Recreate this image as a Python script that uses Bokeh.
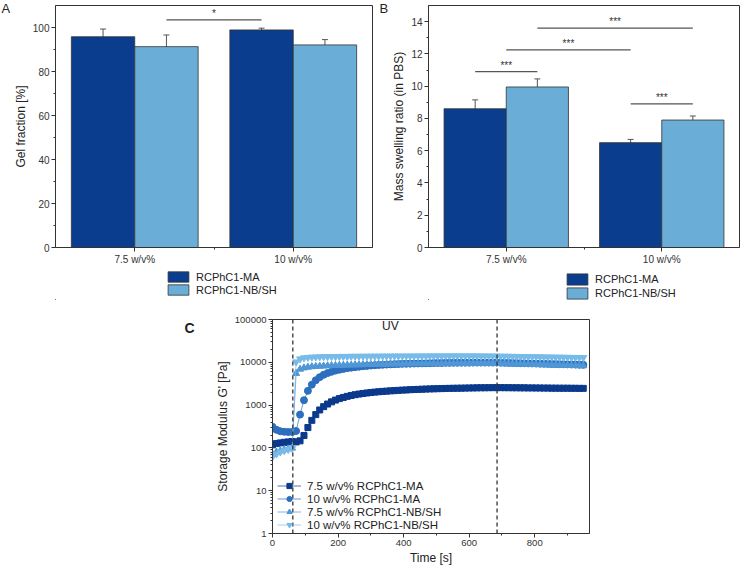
import numpy as np
from bokeh.plotting import figure
from bokeh.layouts import row, column
from bokeh.models import (ColumnDataSource, Whisker, TeeHead, Legend, LegendItem,
                          Label, Span, FixedTicker, Range1d)
from bokeh.embed import file_html
from bokeh.resources import INLINE

FONT = "Liberation Sans"
DARK = "#0b3d8f"
LIGHT = "#6aaed8"
C_COLORS = ["#0b3a8c", "#2c6fbf", "#4f97d6", "#78bbe8"]

# ---------------- data ----------------
groups = ["7.5 w/v%", "10 w/v%"]
series_names = ["RCPhC1-MA", "RCPhC1-NB/SH"]

gel_ma = [95.8, 98.9]
gel_ma_err = [3.5, 0.8]
gel_nb = [91.3, 92.1]
gel_nb_err = [5.3, 2.4]

swell_ma = [8.6, 6.5]
swell_ma_err = [0.55, 0.2]
swell_nb = [9.95, 7.9]
swell_nb_err = [0.5, 0.25]

sigA_x0 = [1.2]
sigA_x1 = [1.8]
sigA_y = [103.5]
sigA_lab = ["*"]

sigB_x0 = [0.8, 1.0, 1.2, 1.8]
sigB_x1 = [1.2, 1.8, 2.2, 2.2]
sigB_y = [10.9, 12.25, 13.6, 8.9]
sigB_lab = ["***", "***", "***", "***"]

time_s = list(range(0, 960, 12))
ma_75 = [118, 126, 131, 135, 138, 141, 138, 146, 195, 300,
         440, 600, 770, 920, 1060, 1190, 1310, 1420, 1510, 1600,
         1680, 1750, 1810, 1870, 1920, 1970, 2010, 2050, 2090, 2120,
         2150, 2180, 2210, 2240, 2260, 2290, 2310, 2330, 2350, 2370,
         2390, 2400, 2420, 2430, 2450, 2460, 2470, 2480, 2490, 2500,
         2510, 2520, 2530, 2540, 2540, 2550, 2560, 2560, 2560, 2550,
         2550, 2540, 2540, 2530, 2530, 2520, 2520, 2510, 2510, 2500,
         2500, 2490, 2490, 2480, 2480, 2480, 2470, 2470, 2460, 2460]
ma_10 = [310, 265, 245, 238, 235, 236, 248, 600, 1300, 2150,
         3000, 3800, 4500, 5100, 5600, 6000, 6400, 6700, 7000, 7300,
         7500, 7700, 7900, 8100, 8250, 8400, 8550, 8650, 8750, 8850,
         8950, 9050, 9100, 9200, 9250, 9300, 9350, 9400, 9450, 9500,
         9550, 9600, 9650, 9650, 9700, 9700, 9750, 9750, 9800, 9800,
         9800, 9850, 9850, 9850, 9850, 9850, 9850, 9850, 9800, 9750,
         9700, 9650, 9600, 9550, 9500, 9450, 9400, 9350, 9300, 9250,
         9200, 9150, 9100, 9050, 9000, 8950, 8900, 8850, 8800, 8750]
nb_75 = [72, 80, 86, 91, 95, 99, 5500, 6900, 7400, 7700,
         7900, 8000, 8100, 8200, 8300, 8400, 8450, 8500, 8550, 8600,
         8650, 8700, 8750, 8800, 8850, 8900, 8950, 9000, 9000, 9050,
         9100, 9100, 9150, 9150, 9200, 9200, 9250, 9250, 9300, 9300,
         9300, 9350, 9350, 9350, 9400, 9400, 9400, 9400, 9450, 9450,
         9450, 9450, 9450, 9450, 9450, 9450, 9450, 9400, 9350, 9300,
         9250, 9200, 9150, 9100, 9050, 9000, 8950, 8900, 8850, 8800,
         8750, 8700, 8650, 8600, 8550, 8500, 8450, 8400, 8350, 8300]
nb_10 = [62, 72, 80, 86, 92, 97, 10200, 12000, 12700, 13000,
         13200, 13300, 13400, 13500, 13500, 13600, 13600, 13700, 13700, 13700,
         13800, 13800, 13800, 13850, 13850, 13900, 13900, 13900, 13950, 13950,
         13950, 14000, 14000, 14000, 14000, 14000, 14050, 14050, 14050, 14050,
         14100, 14100, 14100, 14100, 14100, 14100, 14100, 14100, 14100, 14100,
         14100, 14100, 14100, 14050, 14050, 14000, 14000, 13950, 13900, 13850,
         13800, 13750, 13700, 13650, 13600, 13550, 13500, 13450, 13400, 13350,
         13300, 13250, 13200, 13150, 13100, 13050, 13000, 12950, 12900, 12850]
curve_names = ["7.5 w/v% RCPhC1-MA", "10 w/v% RCPhC1-MA",
               "7.5 w/v% RCPhC1-NB/SH", "10 w/v% RCPhC1-NB/SH"]
uv_on = 62
uv_off = 685

BAR_H = 267
LEG_H = 33
TOP_H = BAR_H + LEG_H
BOT_H = 267


def style_axes(p):
    for ax in (p.xaxis[0], p.yaxis[0]):
        ax.axis_line_color = "#333333"
        ax.major_tick_line_color = "#333333"
        ax.minor_tick_line_color = "#333333"
        ax.major_tick_out = 4
        ax.major_tick_in = 0
        ax.minor_tick_out = 2
        ax.minor_tick_in = 0
        ax.major_label_standoff = 2
        ax.axis_label_standoff = 2
        ax.major_label_text_font = FONT
        ax.major_label_text_font_size = "10px"
        ax.major_label_text_color = "#333333"
        ax.axis_label_text_font = FONT
        ax.axis_label_text_font_size = "12px"
        ax.axis_label_text_font_style = "normal"
        ax.axis_label_text_color = "#222222"
    p.grid.visible = False
    p.outline_line_color = "#333333"
    p.outline_line_width = 1


def blank(w, h, yr=None):
    f = figure(width=w, height=h, x_range=Range1d(0, w), y_range=yr or Range1d(0, h),
               output_backend="svg", toolbar_location=None, min_border=0,
               x_axis_location=None, y_axis_location=None, title_location=None)
    f.grid.visible = False
    f.outline_line_color = None
    return f


def letter_fig(w, h, txt, x, style="normal", size="13px"):
    # the frame top of this figure is aligned with its row neighbours' frame top
    f = blank(w, h, Range1d(0, 1))
    f.add_layout(Label(x=x, y=1, text=txt, text_align="left", text_baseline="top",
                       text_font=FONT, text_font_size=size, text_font_style=style,
                       text_color="#222222"))
    return f


def legend_fig(w, h, lx, ly, glyph_h):
    f = blank(w, h)
    # legend proxies, placed outside the visible range
    r1 = f.vbar(x=[-50], top=[1], width=1, fill_color=DARK, line_color="#333333", line_width=0.8)
    r2 = f.vbar(x=[-50], top=[1], width=1, fill_color=LIGHT, line_color="#333333", line_width=0.8)
    leg = Legend(items=[LegendItem(label=series_names[0], renderers=[r1]),
                        LegendItem(label=series_names[1], renderers=[r2])],
                 location=(lx, ly), orientation="vertical",
                 glyph_width=26, glyph_height=glyph_h, label_height=glyph_h,
                 spacing=0, padding=0, margin=0, label_standoff=5,
                 border_line_alpha=0, background_fill_alpha=0,
                 label_text_font=FONT, label_text_font_size="11px",
                 label_text_color="#222222")
    f.add_layout(leg)
    return f


def bar_panel(width, bl, br, yend, ma, ma_err, nb, nb_err, yticks, yminor, ylabel,
              sx0, sx1, sy, slab):
    p = figure(width=width, height=BAR_H, x_range=Range1d(0.5, 2.5), y_range=Range1d(0, yend),
               output_backend="svg", toolbar_location=None,
               min_border_left=bl, min_border_right=br, min_border_top=5, min_border_bottom=19)
    style_axes(p)
    gx = [1, 2]
    s_ma = ColumnDataSource(dict(x=[g - 0.2 for g in gx], top=ma,
                                 lo=[v - e for v, e in zip(ma, ma_err)],
                                 hi=[v + e for v, e in zip(ma, ma_err)]))
    s_nb = ColumnDataSource(dict(x=[g + 0.2 for g in gx], top=nb,
                                 lo=[v - e for v, e in zip(nb, nb_err)],
                                 hi=[v + e for v, e in zip(nb, nb_err)]))
    p.vbar(x="x", top="top", bottom=0, width=0.4, source=s_ma,
           fill_color=DARK, line_color="#333333", line_width=0.8)
    p.vbar(x="x", top="top", bottom=0, width=0.4, source=s_nb,
           fill_color=LIGHT, line_color="#333333", line_width=0.8)
    for s in (s_ma, s_nb):
        p.add_layout(Whisker(source=s, base="x", upper="hi", lower="lo",
                             line_color="#555555", line_width=1,
                             upper_head=TeeHead(size=6, line_color="#555555"),
                             lower_head=TeeHead(size=6, line_color="#555555")))
    ss = ColumnDataSource(dict(x0=sx0, x1=sx1, y=sy, lab=slab,
                               xm=[(a + b) / 2 for a, b in zip(sx0, sx1)]))
    p.segment(x0="x0", x1="x1", y0="y", y1="y", source=ss, line_color="#555555", line_width=1.2)
    p.text(x="xm", y="y", text="lab", source=ss, text_align="center", text_baseline="bottom",
           text_font_size="10px", text_color="#333333", y_offset=-1)
    p.xaxis.ticker = FixedTicker(ticks=gx, minor_ticks=[1.5])
    p.xaxis.major_label_overrides = {1: groups[0], 2: groups[1]}
    p.yaxis.ticker = FixedTicker(ticks=yticks, minor_ticks=yminor)
    p.yaxis.axis_label = ylabel
    return p


pA = bar_panel(365, 42, 3, 110, gel_ma, gel_ma_err, gel_nb, gel_nb_err,
               [0, 20, 40, 60, 80, 100], [10, 30, 50, 70, 90], "Gel fraction [%]",
               sigA_x0, sigA_x1, sigA_y, sigA_lab)
pB = bar_panel(353, 32, 3, 15, swell_ma, swell_ma_err, swell_nb, swell_nb_err,
               [0, 2, 4, 6, 8, 10, 12, 14], [1, 3, 5, 7, 9, 11, 13], "Mass swelling ratio (in PBS)",
               sigB_x0, sigB_x1, sigB_y, sigB_lab)
legA = legend_fig(365, LEG_H, 110, 4, 13)
legB = legend_fig(353, LEG_H, 136, 0, 14)
letA = letter_fig(10, TOP_H, "A", 1)
letB = letter_fig(14, TOP_H, "B", 4)

# ---------------- panel C ----------------
pC = figure(width=386, height=BOT_H, y_axis_type="log",
            x_range=Range1d(0, 967), y_range=Range1d(1, 100000),
            output_backend="svg", toolbar_location=None,
            min_border_left=64, min_border_right=5, min_border_top=19, min_border_bottom=33)
style_axes(pC)
pC.xaxis.ticker = FixedTicker(ticks=[0, 200, 400, 600, 800], minor_ticks=[100, 300, 500, 700, 900])
pC.yaxis.ticker = FixedTicker(ticks=[1, 10, 100, 1000, 10000, 100000],
                              minor_ticks=[k * 10 ** e for e in range(5) for k in range(2, 10)])
pC.yaxis.major_label_overrides = {1: "1", 10: "10", 100: "100", 1000: "1000",
                                  10000: "10000", 100000: "100000"}
pC.xaxis.axis_label = "Time [s]"
pC.yaxis.axis_label = "Storage Modulus G' [Pa]"
pC.yaxis.major_label_text_font_size = "9.5px"
pC.xaxis.major_label_text_font_size = "9.5px"

markers = ["square", "circle", "triangle", "inverted_triangle"]
sizes = [6, 7, 7, 7]
items = []
for vals, name, col, mk, sz in zip([ma_75, ma_10, nb_75, nb_10], curve_names, C_COLORS, markers, sizes):
    src = ColumnDataSource(dict(t=time_s, g=vals))
    rl = pC.line("t", "g", source=src, line_color=col, line_width=1, line_alpha=0.7)
    rs = pC.scatter("t", "g", source=src, marker=mk, size=sz, fill_color=col, line_color=col)
    items.append(LegendItem(label=name, renderers=[rl, rs]))

for loc in (uv_on, uv_off):
    pC.add_layout(Span(location=loc, dimension="height", line_color="#333333",
                       line_dash="4 3", line_width=1.3))
pC.add_layout(Label(x=(uv_on + uv_off) / 2 - 14, y=70000, text="UV", text_align="center",
                    text_baseline="middle", text_font=FONT, text_font_size="12px",
                    text_color="#222222"))
legC = Legend(items=items, location=(5, 2), orientation="vertical",
              glyph_width=24, glyph_height=13, label_height=13, spacing=0, padding=0, margin=0,
              label_standoff=6, border_line_alpha=0, background_fill_alpha=0,
              label_text_font=FONT, label_text_font_size="11.5px", label_text_color="#222222")
pC.add_layout(legC)
letC = letter_fig(208, BOT_H, "C", 184, style="bold", size="14px")

layout = column(row(letA, column(pA, legA), letB, column(pB, legB)), row(letC, pC))
open("out.html", "w").write(file_html(layout, INLINE))
